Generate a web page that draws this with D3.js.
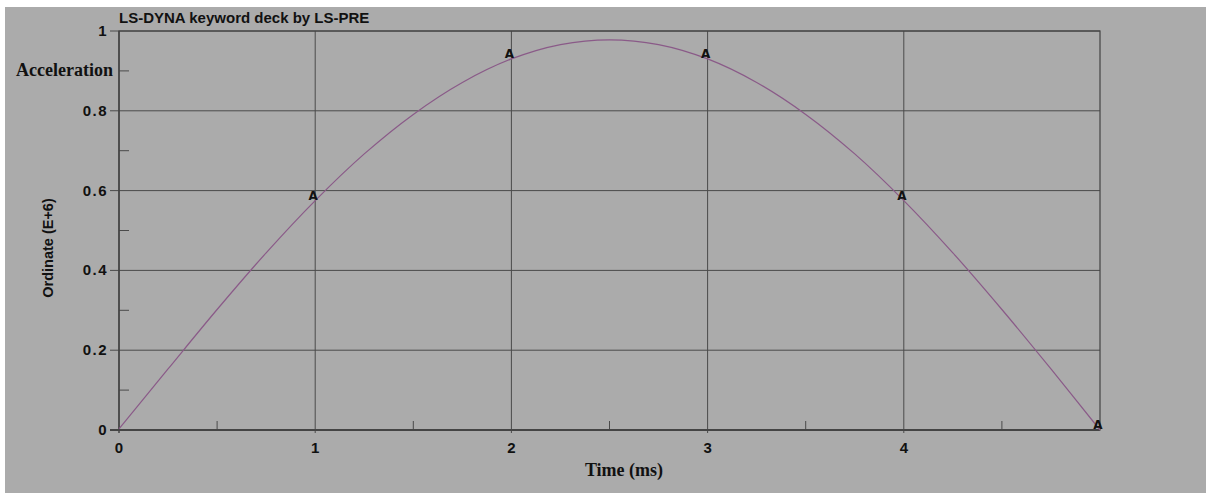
<!DOCTYPE html>
<html>
<head>
<meta charset="utf-8">
<script src="https://cdn.jsdelivr.net/npm/d3@7"></script>
<style>
  body { margin: 0; background: #ffffff; }
  svg { display: block; }
</style>
</head>
<body>
<svg id="chart"></svg>
<script>
// values (time in ms, ordinate in E+6)
var times = [0, 0.25, 0.5, 0.75, 1, 1.25, 1.5, 1.75, 2, 2.25, 2.5, 2.75, 3, 3.25, 3.5, 3.75, 4, 4.25, 4.5, 4.75, 5];
var accel = [0.003, 0.153, 0.302, 0.444, 0.575, 0.692, 0.791, 0.871, 0.930, 0.966, 0.978, 0.966, 0.930, 0.871, 0.791, 0.692, 0.575, 0.444, 0.302, 0.153, 0];
var markerTimes = [1, 2, 3, 4, 5];
var markerLabel = "A";
var xTicks = [0, 1, 2, 3, 4];
var xMinor = [0.5, 1.5, 2.5, 3.5, 4.5];
var yTicks = [0, 0.2, 0.4, 0.6, 0.8, 1];
var yMinor = [0.1, 0.3, 0.5, 0.7, 0.9];
var title = "LS-DYNA keyword deck by LS-PRE";
var curveName = "Acceleration";

var width = 1206, height = 493;
var margin = {top: 31, right: 106, bottom: 63, left: 119};
var sans = "Liberation Sans, Arial, sans-serif";
var serif = "Liberation Serif, Times New Roman, serif";

var svg = d3.select("#chart").attr("width", width).attr("height", height);

// gray panel
svg.append("rect").attr("x", 5).attr("y", 7).attr("width", width - 5).attr("height", height - 7)
   .attr("fill", "#ababab");

var x = d3.scaleLinear().domain([0, 5]).range([margin.left, width - margin.right]);
var y = d3.scaleLinear().domain([0, 1]).range([height - margin.bottom, margin.top]);

var gridColor = "#4a4a4a";

// grid lines
svg.append("g").selectAll("line").data(xTicks.slice(1)).enter().append("line")
   .attr("x1", d => x(d)).attr("x2", d => x(d))
   .attr("y1", y(1)).attr("y2", y(0) + 3)
   .attr("stroke", gridColor).attr("stroke-width", 1);
svg.append("g").selectAll("line").data(yTicks.slice(1)).enter().append("line")
   .attr("x1", x(0) - 9).attr("x2", x(5))
   .attr("y1", d => y(d)).attr("y2", d => y(d))
   .attr("stroke", gridColor).attr("stroke-width", 1);

// minor ticks
svg.append("g").selectAll("line").data(xMinor).enter().append("line")
   .attr("x1", d => x(d)).attr("x2", d => x(d))
   .attr("y1", y(0)).attr("y2", y(0) - 9)
   .attr("stroke", gridColor).attr("stroke-width", 1);
svg.append("g").selectAll("line").data(yMinor).enter().append("line")
   .attr("x1", x(0)).attr("x2", x(0) + 10)
   .attr("y1", d => y(d)).attr("y2", d => y(d))
   .attr("stroke", gridColor).attr("stroke-width", 1);

// frame
svg.append("rect").attr("x", x(0)).attr("y", y(1))
   .attr("width", x(5) - x(0)).attr("height", y(0) - y(1))
   .attr("fill", "none").attr("stroke", "#444").attr("stroke-width", 1.2);
svg.append("line").attr("x1", x(0) - 9).attr("x2", x(5)).attr("y1", y(0)).attr("y2", y(0))
   .attr("stroke", "#444").attr("stroke-width", 2);
svg.append("line").attr("x1", x(0)).attr("x2", x(0)).attr("y1", y(1)).attr("y2", y(0) + 3)
   .attr("stroke", "#444").attr("stroke-width", 1.5);

// tick labels
svg.append("g").selectAll("text").data(xTicks).enter().append("text")
   .attr("x", d => x(d)).attr("y", y(0) + 23)
   .attr("text-anchor", "middle")
   .attr("font-family", sans).attr("font-weight", "bold").attr("font-size", 15)
   .attr("fill", "#111")
   .text(d => d3.format("d")(d));
svg.append("g").selectAll("text").data(yTicks).enter().append("text")
   .attr("x", x(0) - 11).attr("y", d => y(d) + 5)
   .attr("text-anchor", "end")
   .attr("font-family", sans).attr("font-weight", "bold").attr("font-size", 15)
   .attr("letter-spacing", 1.5)
   .attr("fill", "#111")
   .text(d => d === 0 || d === 1 ? d : d3.format(".1f")(d));

// curve name next to 0.9 minor tick
svg.append("text").attr("x", x(0) - 6).attr("y", y(0.9) + 5)
   .attr("text-anchor", "end")
   .attr("font-family", serif).attr("font-weight", "bold").attr("font-size", 18)
   .attr("fill", "#111").text(curveName);

// title
svg.append("text").attr("x", x(0)).attr("y", 23)
   .attr("font-family", sans).attr("font-weight", "bold").attr("font-size", 15)
   .attr("fill", "#111").text(title);

// axis titles
svg.append("text").attr("x", 624).attr("y", 476)
   .attr("text-anchor", "middle")
   .attr("font-family", serif).attr("font-weight", "bold").attr("font-size", 18)
   .attr("fill", "#111").text("Time (ms)");
svg.append("text").attr("transform", "translate(53," + 248 + ") rotate(-90)")
   .attr("text-anchor", "middle")
   .attr("font-family", sans).attr("font-weight", "bold").attr("font-size", 14.5)
   .attr("fill", "#111").text("Ordinate (E+6)");

// the curve
var pts = times.map((t, i) => [t, accel[i]]);
var line = d3.line().x(d => x(d[0])).y(d => y(d[1])).curve(d3.curveCatmullRom);
svg.append("path").datum(pts).attr("d", line)
   .attr("fill", "none").attr("stroke", "#8a5a88").attr("stroke-width", 1.2);

// curve markers
svg.append("g").selectAll("text").data(markerTimes).enter().append("text")
   .attr("x", d => x(d) - 2)
   .attr("y", d => y(accel[times.indexOf(d)]) - 1)
   .attr("text-anchor", "middle")
   .attr("font-family", "DejaVu Sans, sans-serif").attr("font-weight", "bold").attr("font-size", 12)
   .attr("fill", "#111").text(markerLabel);
</script>
</body>
</html>
